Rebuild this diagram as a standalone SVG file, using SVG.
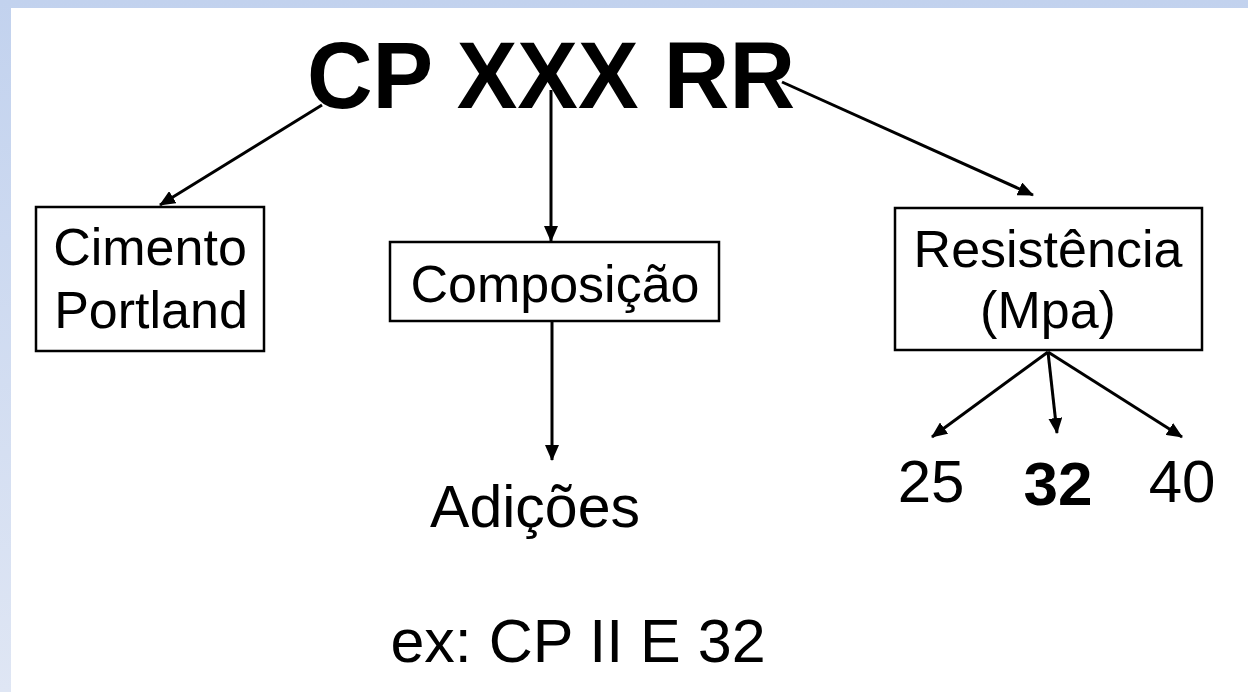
<svg xmlns="http://www.w3.org/2000/svg" width="1248" height="692" viewBox="0 0 1248 692">
<defs>
<linearGradient id="bg" x1="0" y1="0" x2="0" y2="1">
<stop offset="0" stop-color="#c2d2ee"/>
<stop offset="1" stop-color="#dfe6f4"/>
</linearGradient>
<marker id="ah" viewBox="0 0 16 14" refX="15" refY="7" markerWidth="16" markerHeight="14" markerUnits="userSpaceOnUse" orient="auto">
<path d="M0,0 L16,7 L0,14 Z" fill="#000"/>
</marker>
<style>
.t{font-family:"Liberation Sans",Arial,sans-serif;fill:#000;}
.box{fill:#fff;stroke:#000;stroke-width:2.5;}
.c{stroke:#000;stroke-width:3;fill:none;marker-end:url(#ah);}
</style>
</defs>
<rect x="0" y="0" width="1248" height="692" fill="url(#bg)"/>
<rect x="11" y="8" width="1237" height="684" fill="#fff"/>
<g id="title">
<text class="t" x="307" y="108" font-size="94" font-weight="bold" textLength="488" lengthAdjust="spacingAndGlyphs">CP XXX RR</text>
</g>
<g id="connectors">
<line class="c" x1="322" y1="105" x2="160" y2="205"/>
<line class="c" x1="551" y1="90" x2="551" y2="241"/>
<line class="c" x1="782" y1="82" x2="1033" y2="195"/>
<line class="c" x1="552" y1="322" x2="552" y2="460"/>
<line class="c" x1="1048" y1="352" x2="932" y2="437"/>
<line class="c" x1="1048" y1="352" x2="1057" y2="433"/>
<line class="c" x1="1048" y1="352" x2="1182" y2="437"/>
</g>
<g id="cimento">
<rect class="box" x="36" y="207" width="228" height="144"/>
<text class="t" x="150" y="265" font-size="52" text-anchor="middle">Cimento</text>
<text class="t" x="151" y="328" font-size="52" text-anchor="middle">Portland</text>
</g>
<g id="composicao">
<rect class="box" x="390" y="242" width="329" height="79"/>
<text class="t" x="555" y="302" font-size="52" text-anchor="middle">Composição</text>
</g>
<g id="resistencia">
<rect class="box" x="895" y="208" width="307" height="142"/>
<text class="t" x="1048" y="267" font-size="52" text-anchor="middle">Resistência</text>
<text class="t" x="1048" y="328" font-size="52" text-anchor="middle">(Mpa)</text>
</g>
<g id="adicoes">
<text class="t" x="535" y="527" font-size="59" text-anchor="middle">Adições</text>
</g>
<g id="v25"><text class="t" x="931" y="502" font-size="60" text-anchor="middle">25</text></g>
<g id="v32"><text class="t" x="1058" y="505" font-size="62" font-weight="bold" text-anchor="middle">32</text></g>
<g id="v40"><text class="t" x="1182" y="502" font-size="60" text-anchor="middle">40</text></g>
<g id="exemplo">
<text class="t" x="578" y="662" font-size="61" text-anchor="middle">ex: CP II E 32</text>
</g>
</svg>
